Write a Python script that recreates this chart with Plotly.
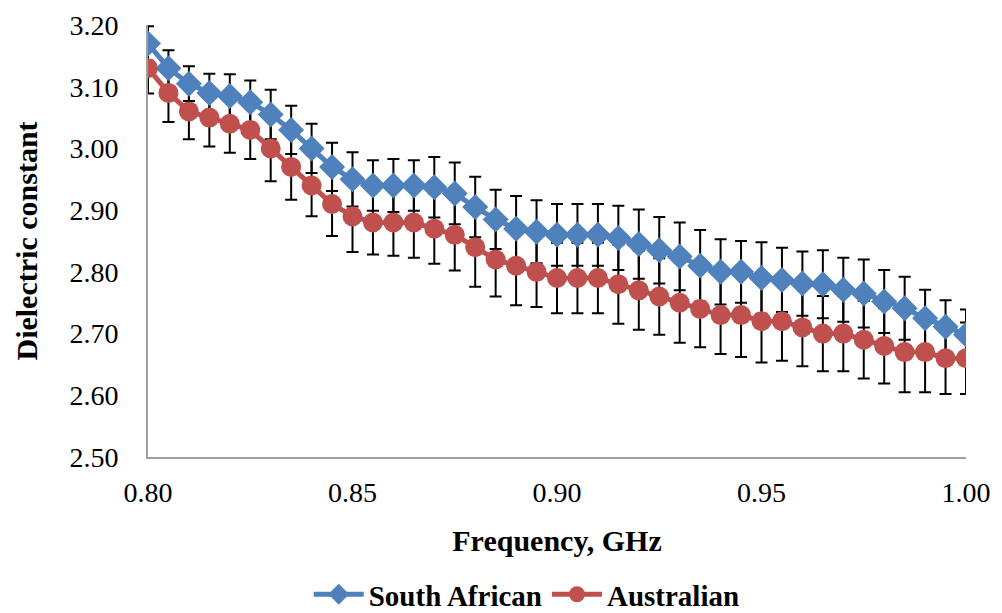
import plotly.graph_objects as go

freq = [round(0.80 + 0.005 * i, 3) for i in range(41)]

south_african = [3.17, 3.13, 3.105, 3.09, 3.085, 3.075, 3.055, 3.03, 3.00, 2.97,
                 2.95, 2.94, 2.94, 2.94, 2.937, 2.927, 2.905, 2.885, 2.87, 2.865,
                 2.86, 2.86, 2.86, 2.855, 2.845, 2.835, 2.825, 2.81, 2.80, 2.80,
                 2.79, 2.787, 2.781, 2.78, 2.771, 2.765, 2.752, 2.741, 2.725, 2.711,
                 2.698]
south_african_err = [0.028, 0.029, 0.028, 0.031, 0.035, 0.035, 0.040, 0.039, 0.040, 0.039,
                     0.044, 0.041, 0.043, 0.041, 0.049, 0.050, 0.049, 0.048, 0.053, 0.051,
                     0.050, 0.050, 0.050, 0.052, 0.056, 0.054, 0.055, 0.058, 0.053, 0.050,
                     0.058, 0.052, 0.052, 0.055, 0.052, 0.055, 0.051, 0.051, 0.046, 0.043,
                     0.041]

australian = [3.13, 3.09, 3.06, 3.05, 3.04, 3.03, 3.00, 2.97, 2.94, 2.91,
              2.89, 2.88, 2.88, 2.88, 2.87, 2.86, 2.84, 2.82, 2.81, 2.80,
              2.79, 2.79, 2.79, 2.78, 2.77, 2.76, 2.75, 2.74, 2.73, 2.73,
              2.72, 2.72, 2.71, 2.70, 2.70, 2.69, 2.68, 2.67, 2.67, 2.66,
              2.66]
australian_err = [0.041, 0.047, 0.045, 0.047, 0.047, 0.047, 0.053, 0.053, 0.050, 0.052,
                  0.058, 0.052, 0.054, 0.057, 0.057, 0.058, 0.064, 0.060, 0.064, 0.057,
                  0.057, 0.057, 0.057, 0.064, 0.064, 0.062, 0.065, 0.062, 0.063, 0.068,
                  0.067, 0.064, 0.063, 0.061, 0.061, 0.063, 0.061, 0.065, 0.065, 0.058,
                  0.058]

x_ticks = [0.80, 0.85, 0.90, 0.95, 1.00]
y_ticks = [2.50, 2.60, 2.70, 2.80, 2.90, 3.00, 3.10, 3.20]

BLUE = "#4F81BD"
RED = "#C0504D"
FONT = "Liberation Serif, Times New Roman, serif"

fig = go.Figure()

# error bars first (drawn beneath lines and markers)
for ys, errs in ((south_african, south_african_err), (australian, australian_err)):
    fig.add_trace(go.Scatter(
        x=freq, y=ys, mode="markers",
        marker=dict(size=1, color="rgba(0,0,0,0)"),
        error_y=dict(type="data", array=errs, visible=True,
                     color="black", thickness=2, width=6),
        showlegend=False, hoverinfo="skip",
    ))

fig.add_trace(go.Scatter(
    x=freq, y=south_african, mode="lines+markers", name="<b>South African</b>",
    line=dict(color=BLUE, width=5),
    marker=dict(symbol="diamond", size=20, color=BLUE),
))
fig.add_trace(go.Scatter(
    x=freq, y=australian, mode="lines+markers", name="<b>Australian</b>",
    line=dict(color=RED, width=5),
    marker=dict(symbol="circle", size=20, color=RED),
))

fig.update_layout(
    width=1002, height=613,
    margin=dict(l=148, r=36, t=25, b=156, autoexpand=False),
    paper_bgcolor="white", plot_bgcolor="white",
    font=dict(family=FONT, size=28, color="black"),
    showlegend=True,
    legend=dict(orientation="h", x=0.463, xanchor="center", y=-0.318, yanchor="middle",
                font=dict(family=FONT, size=29, color="black"),
                itemwidth=50, tracegroupgap=0, bgcolor="rgba(0,0,0,0)"),
)

fig.update_xaxes(
    range=[0.80, 1.00], tickvals=x_ticks, ticktext=[f"{v:.2f}" for v in x_ticks],
    showgrid=False, zeroline=False,
    showline=True, linecolor="#A0A0A0", linewidth=2,
    ticks="outside", ticklen=9, tickcolor="rgba(0,0,0,0)",
    tickfont=dict(family=FONT, size=28),
    title=dict(text="<b>Frequency, GHz</b>", font=dict(family=FONT, size=30), standoff=23),
)
fig.update_yaxes(
    range=[2.50, 3.20], tickvals=y_ticks, ticktext=[f"{v:.2f}" for v in y_ticks],
    showgrid=False, zeroline=False,
    showline=True, linecolor="#A0A0A0", linewidth=2,
    ticks="outside", ticklen=22, tickcolor="rgba(0,0,0,0)",
    tickfont=dict(family=FONT, size=28),
    title=dict(text="<b>Dielectric constant</b>", font=dict(family=FONT, size=30), standoff=23),
)

fig.write_html("out.html", config={"displayModeBar": False},
               post_script="document.body.style.margin='0';")
